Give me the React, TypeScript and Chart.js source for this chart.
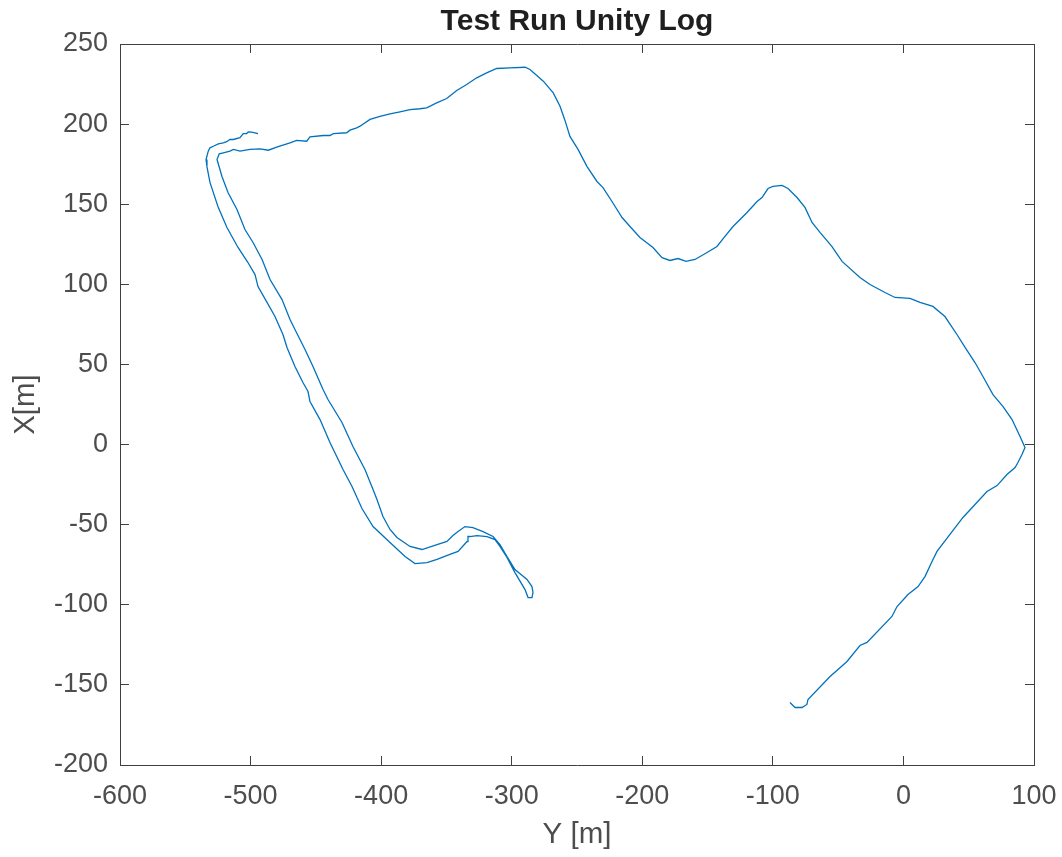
import { useEffect, useRef } from "react";
import { Chart, registerables } from "chart.js";

Chart.register(...registerables);

// Horizontal axis values: Y [m]
const pathY: number[] = [
  -494.3, -499.1, -501.7, -503.0, -505.6, -508.1, -513.2, -515.8, -518.3, -520.9, -524.7, -528.5, -531.1, -532.4, -534.1, -533.4,
  -531.1, -525.0, -518.1, -509.6, -502.0, -496.6, -494.3, -487.4, -481.3, -475.2, -472.1, -466.0, -459.9, -456.0, -454.5, -446.8,
  -439.2, -429.2, -422.3, -414.7, -406.2, -393.2, -381.7, -374.1, -364.9, -357.2, -347.3, -341.1, -334.2, -333.5, -332.0, -326.6,
  -318.9, -312.8, -309.0, -303.6, -297.5, -289.8, -287.5,
  -284.5, -283.7, -284.5, -288.3, -297.5, -303.6, -309.0, -314.3, -322.0, -329.7, -335.8, -341.1, -345.0, -349.6, -357.2, -368.7,
  -377.9, -387.9, -393.2, -398.6, -403.2, -406.2, -412.4, -421.6, -430.0, -440.7, -444.5, -452.2, -458.3, -466.0, -469.8, -475.9,
  -485.1, -491.2, -498.1, -504.3, -510.4, -517.3, -521.9, -525.7, -524.0,
  -520.9, -515.8, -513.2, -508.1, -500.4, -492.8, -486.4, -480.0, -469.8, -464.7, -457.0, -454.5, -444.3, -439.2, -436.6, -426.4,
  -423.9, -418.7, -416.2, -408.5, -400.9, -393.2, -385.6, -377.9, -370.2, -365.1, -357.5, -349.8, -342.1, -334.5, -326.8, -319.2,
  -311.5, -301.3, -289.8, -286.0, -275.8, -268.2, -263.0, -259.2, -255.4, -249.2, -242.3, -234.7, -230.1, -223.2, -215.5, -209.4,
  -201.8, -191.8, -184.9, -178.8, -172.6, -166.5, -159.6, -150.4, -142.8, -136.7, -130.5, -119.8, -112.1, -108.3, -103.7, -99.9,
  -93.0, -88.4, -81.5, -75.4, -70.0, -63.9, -54.7, -47.0, -33.3, -25.6, -14.1, -6.5, 5.0, 12.7, 22.6, 31.8,
  41.0, 47.2, 54.8, 60.9, 68.6, 76.3, 83.2, 89.3, 93.1, 90.8, 87.7, 85.5, 79.3, 71.7, 64.0, 45.6,
  25.7, 21.9, 16.5, 11.2, 3.5, -4.9, -8.8, -27.9, -33.3, -43.2, -56.2, -73.1, -73.9, -77.7, -83.0, -86.9,
];

// Vertical axis values: X[m]
const pathX: number[] = [
  194.1, 195.0, 195.2, 194.1, 194.1, 191.5, 190.4, 190.4, 189.0, 188.3, 187.7, 186.2, 185.2, 183.1, 177.9, 173.5,
  163.6, 148.6, 135.5, 123.0, 113.6, 106.1, 98.6, 88.7, 79.9, 68.7, 60.6, 48.7, 38.7, 33.1, 26.9, 15.6,
  1.3, -15.6, -26.2, -39.9, -51.2, -61.1, -69.9, -74.3, -73.7, -71.7, -68.6, -66.7, -60.5, -57.4, -57.4, -56.8,
  -57.4, -59.3, -63.6, -70.5, -79.9, -90.5, -95.5,
  -95.5, -92.3, -88.6, -84.2, -78.0, -69.9, -62.4, -57.4, -54.3, -51.8, -51.2, -54.3, -56.8, -60.5, -62.4, -65.5,
  -63.6, -58.0, -53.0, -44.9, -34.3, -28.1, -15.6, -1.2, 13.8, 28.1, 34.4, 48.7, 59.3, 71.8, 78.1, 90.5,
  103.0, 115.5, 126.1, 134.2, 146.7, 157.3, 167.3, 177.9, 181.5,
  182.1, 183.1, 184.2, 183.1, 184.2, 184.6, 183.7, 185.6, 188.3, 189.8, 189.3, 192.1, 192.9, 192.9, 194.1, 194.6,
  196.2, 197.7, 198.7, 202.9, 204.9, 206.4, 207.7, 209.1, 209.6, 210.2, 213.3, 216.0, 221.0, 224.7, 228.9, 232.0,
  234.7, 235.1, 235.5, 234.1, 226.8, 219.5, 211.2, 202.3, 192.3, 184.2, 173.5, 164.2, 160.4, 151.7, 141.7, 136.1,
  129.2, 123.0, 116.7, 114.9, 116.1, 114.3, 115.5, 119.9, 123.6, 129.9, 136.1, 144.8, 151.7, 154.2, 159.8, 161.1,
  161.7, 159.8, 154.2, 148.0, 138.6, 132.4, 123.6, 114.3, 104.3, 99.9, 94.9, 91.8, 91.2, 88.7, 86.2, 79.9,
  68.7, 60.6, 51.2, 42.5, 31.2, 23.7, 15.6, 5.0, -1.8, -6.2, -11.2, -14.3, -18.7, -25.6, -29.3, -45.5,
  -66.7, -73.0, -82.4, -88.6, -93.6, -101.1, -107.3, -123.5, -125.4, -135.4, -144.8, -159.1, -162.2, -164.1, -164.1, -161.0,
];

const xTickValues: number[] = [-600, -500, -400, -300, -200, -100, 0, 100];
const yTickValues: number[] = [-200, -150, -100, -50, 0, 50, 100, 150, 200, 250];

const chartTitle = "Test Run Unity Log";
const xAxisTitle = "Y [m]";
const yAxisTitle = "X[m]";

const W = 1062;
const H = 857;
const FONT = "'Liberation Sans', Arial, Helvetica, sans-serif";
const AXIS_COLOR = "#404040";
const TICK_TEXT = "#4d4d4d";
const LINE_COLOR = "#0072BD";

function noOverhang(s: any) {
  s.paddingLeft = 0;
  s.paddingRight = 0;
  s.paddingTop = 0;
  s.paddingBottom = 0;
}

export default function App() {
  const ref = useRef<HTMLCanvasElement | null>(null);

  useEffect(() => {
    if (!ref.current) return;
    const points = pathY.map((v, i) => ({ x: v, y: pathX[i] }));

    const baseGrid = {
      drawOnChartArea: false,
      drawTicks: true,
      tickLength: -9,
      color: AXIS_COLOR,
      tickColor: AXIS_COLOR,
      tickWidth: 1,
    };
    const border = { display: true, color: AXIS_COLOR, width: 1 };

    const chart = new Chart(ref.current, {
      type: "scatter",
      data: {
        datasets: [
          {
            data: points,
            showLine: true,
            borderColor: LINE_COLOR,
            backgroundColor: LINE_COLOR,
            borderWidth: 1.3,
            pointRadius: 0,
            pointHoverRadius: 0,
            fill: false,
            tension: 0,
          },
        ],
      },
      options: {
        responsive: false,
        animation: false,
        devicePixelRatio: 1,
        layout: { padding: 0 },
        events: [],
        plugins: {
          legend: { display: false },
          tooltip: { enabled: false },
          title: { display: false },
        },
        scales: {
          x: {
            type: "linear",
            axis: "x",
            position: "bottom",
            min: -600,
            max: 100,
            afterBuildTicks: (s: any) => {
              s.ticks = xTickValues.map((v) => ({ value: v }));
            },
            afterFit: (s: any) => {
              s.height = 92;
              noOverhang(s);
            },
            grid: baseGrid,
            border,
            ticks: {
              color: TICK_TEXT,
              font: { family: FONT, size: 27 },
              padding: 24,
              maxRotation: 0,
              autoSkip: false,
            },
            title: {
              display: true,
              text: xAxisTitle,
              color: TICK_TEXT,
              font: { family: FONT, size: 29.5, lineHeight: 1 },
              padding: { top: 0, bottom: 7 },
            },
          },
          x2: {
            type: "linear",
            axis: "x",
            position: "top",
            min: -600,
            max: 100,
            afterBuildTicks: (s: any) => {
              s.ticks = xTickValues.map((v) => ({ value: v }));
            },
            afterFit: (s: any) => {
              s.height = 44;
              noOverhang(s);
            },
            grid: baseGrid,
            border,
            ticks: { display: false },
            title: {
              display: true,
              text: chartTitle,
              color: "#1f1f1f",
              font: { family: FONT, size: 30, weight: "bold", lineHeight: 1 },
              padding: { top: 6.5, bottom: 0 },
            },
          },
          y: {
            type: "linear",
            axis: "y",
            position: "left",
            min: -200,
            max: 250,
            afterBuildTicks: (s: any) => {
              s.ticks = yTickValues.map((v) => ({ value: v }));
            },
            afterFit: (s: any) => {
              s.width = 120;
              noOverhang(s);
            },
            grid: baseGrid,
            border,
            ticks: {
              color: TICK_TEXT,
              font: { family: FONT, size: 27 },
              padding: 21,
              autoSkip: false,
            },
            title: {
              display: true,
              text: yAxisTitle,
              color: TICK_TEXT,
              font: { family: FONT, size: 29.5, lineHeight: 1 },
              padding: { top: 11, bottom: 0 },
            },
          },
          y2: {
            type: "linear",
            axis: "y",
            position: "right",
            min: -200,
            max: 250,
            afterBuildTicks: (s: any) => {
              s.ticks = yTickValues.map((v) => ({ value: v }));
            },
            afterFit: (s: any) => {
              s.width = 28;
              noOverhang(s);
            },
            grid: baseGrid,
            border,
            ticks: { display: false },
          },
        },
      } as any,
    });

    return () => chart.destroy();
  }, []);

  return (
    <div style={{ position: "fixed", left: 0, top: 0, width: W, height: H, background: "#ffffff" }}>
      <canvas ref={ref} width={W} height={H} style={{ display: "block", width: W, height: H }} />
    </div>
  );
}
